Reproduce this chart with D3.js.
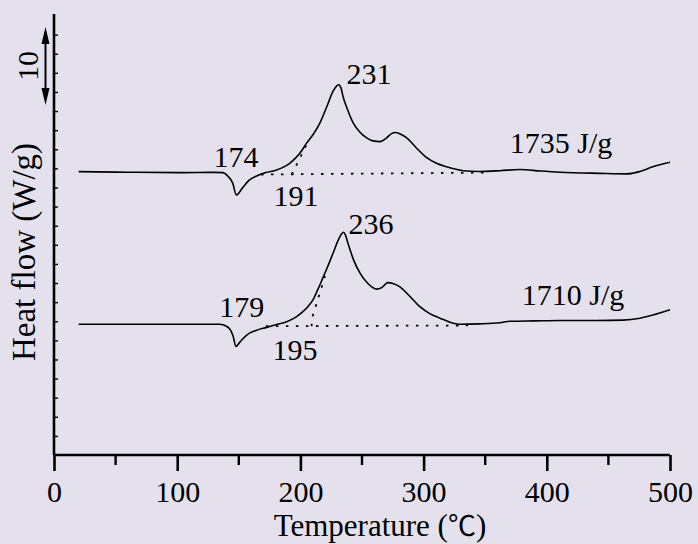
<!DOCTYPE html>
<html>
<head>
<meta charset="utf-8">
<script src="https://cdn.jsdelivr.net/npm/d3@7/dist/d3.min.js"></script>
<style>
  html, body { margin: 0; padding: 0; background: #e4e0ec; }
  svg { display: block; font-family: "Liberation Serif", "DejaVu Serif", serif; }
</style>
</head>
<body>
<svg id="chart" width="698" height="544"></svg>
<script>
// DSC curves, temperature (°C) vs heat flow (W/g, offset)
var upperCurve = [
  [20, 37.08], [60, 37.0], [102, 36.95], [130, 36.98], [137, 36.95], [141, 36.5],
  [145, 35.6], [148, 34.03], [153, 34.95], [158, 35.9], [164.5, 36.5], [172, 36.95],
  [180.7, 37.3], [191.6, 38.2], [199.7, 39.5], [205, 40.8], [211, 42.1], [216, 43.5],
  [222, 45.8], [226.5, 47.6], [229.5, 48.3], [231, 48.45], [233, 48.0], [234.6, 46.9],
  [238, 45.3], [242.7, 43.5], [248, 42.3], [253.8, 41.5], [259, 41.1], [264.6, 41.0],
  [270, 41.5], [274, 42.05], [276.8, 42.2], [281, 42.0], [286.3, 41.5], [294, 40.2],
  [302.5, 38.9], [310, 38.2], [318.7, 37.7], [332, 37.2], [345, 37.1], [362, 37.2],
  [378, 37.35], [395, 37.15], [410.7, 37.0], [443, 36.85], [465, 36.78], [475.6, 37.1],
  [486, 37.7], [500, 38.3]
];
var lowerCurve = [
  [20, 17.1], [60, 17.1], [102, 17.1], [134.7, 17.1], [141, 16.75], [145.3, 15.6],
  [147.7, 14.2], [151, 14.8], [156.4, 15.7], [164, 16.3], [172.6, 16.7], [180, 17.05],
  [188.9, 17.45], [196, 18.0], [202, 18.75], [206, 19.4], [210.2, 20.3], [214, 21.6],
  [218.3, 23.2], [222, 24.6], [226.5, 26.4], [231, 28.2], [233.5, 28.95], [235, 29.15],
  [236.5, 28.8], [238.6, 27.7], [243, 25.6], [248.4, 23.8], [255, 22.4], [262, 21.7],
  [266, 21.9], [271, 22.55], [275, 22.45], [280.8, 22.0], [288, 20.9], [297, 19.4],
  [305, 18.5], [313.3, 17.9], [321, 17.4], [329.5, 17.1], [345, 17.15], [362, 17.3],
  [370, 17.5], [390, 17.55], [410.7, 17.6], [440, 17.6], [461.8, 17.65], [475.6, 17.9],
  [488, 18.4], [500, 19.0]
];

// dotted construction lines (baselines and onset tangents)
var upperBaseline = [[168, 36.7], [352, 36.95]];
var upperTangent = [[193, 36.7], [205.5, 40.8]];
var lowerBaseline = [[172, 16.85], [336, 16.95]];
var lowerTangent = [[209, 16.85], [210, 18.2], [220, 23.4]];

var labelText = ["231", "174", "191", "1735 J/g", "236", "179", "195", "1710 J/g"];
var labelT = [255.7, 147.7, 196.4, 411.5, 257.3, 152.3, 195.6, 421.3];
var labelW = [48.55, 37.7, 32.6, 39.5, 28.9, 18.06, 12.4, 19.6];

var xMajorTicks = [0, 100, 200, 300, 400, 500];
var xMinorTicks = [50, 150, 250, 350, 450];
var yMinorTicks = d3.range(2.5, 56, 2.5);
var scaleBarSpan = [45.8, 56.0];
var scaleBarLabel = "10";

var svg = d3.select('#chart');
var margin = {left: 54, right: 28, top: 14, bottom: 89};
var width = 698, height = 544;

var x = d3.scaleLinear().domain([0, 500]).range([margin.left, width - margin.right]);
var y = d3.scaleLinear().domain([0, 57.7]).range([height - margin.bottom, margin.top]);

var line = d3.line()
  .x(function(d) { return x(d[0]); })
  .y(function(d) { return y(d[1]); });

// x axis: major ticks labelled, minor ticks shorter
var xAxis = svg.append('g')
  .attr('transform', 'translate(0,' + y(0) + ')')
  .call(d3.axisBottom(x).tickValues(xMajorTicks).tickSize(16).tickPadding(10).tickFormat(d3.format('d')));
xAxis.select('.domain').attr('stroke-width', 2.6).attr('d', 'M' + x(0) + ',0H' + x(500));
xAxis.selectAll('.tick line').attr('stroke-width', 2.6);
xAxis.selectAll('.tick text')
  .attr('font-family', '"Liberation Serif", serif')
  .attr('font-size', 30)
  .attr('fill', '#000');
svg.append('g')
  .attr('transform', 'translate(0,' + y(0) + ')')
  .selectAll('line')
  .data(xMinorTicks)
  .enter().append('line')
  .attr('x1', function(d) { return x(d); })
  .attr('x2', function(d) { return x(d); })
  .attr('y1', 0).attr('y2', 10)
  .attr('stroke', '#000').attr('stroke-width', 2.4);

// y axis: no labels, small inward ticks
var yAxis = svg.append('g')
  .attr('transform', 'translate(' + x(0) + ',0)')
  .call(d3.axisRight(y).tickValues(yMinorTicks).tickSize(4).tickFormat(''));
yAxis.select('.domain').attr('stroke-width', 2.6).attr('d', 'M0,' + y(0) + 'V' + y(57.7));
yAxis.selectAll('.tick line').attr('stroke-width', 1.4);

// scale bar arrow (10 W/g)
var barX = 45.5, barTop = y(scaleBarSpan[1]), barBot = y(scaleBarSpan[0]);
svg.append('line')
  .attr('x1', barX).attr('x2', barX).attr('y1', barTop + 8).attr('y2', barBot - 8)
  .attr('stroke', '#000').attr('stroke-width', 2);
svg.append('path')
  .attr('d', 'M' + barX + ',' + barTop + 'L' + (barX - 4) + ',' + (barTop + 17) + 'L' + (barX + 4) + ',' + (barTop + 17) + 'Z' +
             'M' + barX + ',' + barBot + 'L' + (barX - 4) + ',' + (barBot - 17) + 'L' + (barX + 4) + ',' + (barBot - 17) + 'Z')
  .attr('fill', '#000');
svg.append('text')
  .attr('transform', 'translate(38,' + ((barTop + barBot) / 2) + ') rotate(-90)')
  .attr('text-anchor', 'middle')
  .attr('font-size', 30)
  .text(scaleBarLabel);

// curves
[upperCurve, lowerCurve].forEach(function(c) {
  svg.append('path')
    .datum(c)
    .attr('d', line.curve(d3.curveMonotoneX))
    .attr('fill', 'none')
    .attr('stroke', '#000')
    .attr('stroke-width', 1.6);
});

[upperBaseline, upperTangent, lowerBaseline, lowerTangent].forEach(function(c) {
  svg.append('path')
    .datum(c)
    .attr('d', line.curve(d3.curveLinear))
    .attr('fill', 'none')
    .attr('stroke', '#000')
    .attr('stroke-width', 1.8)
    .attr('stroke-dasharray', '2.5,7.5');
});

// annotations
svg.selectAll('text.note')
  .data(labelText)
  .enter().append('text')
  .attr('class', 'note')
  .attr('x', function(d, i) { return x(labelT[i]); })
  .attr('y', function(d, i) { return y(labelW[i]); })
  .attr('text-anchor', 'middle')
  .attr('font-size', 30)
  .text(function(d) { return d; });

// axis titles
var xt = svg.append('text')
  .attr('x', 380)
  .attr('y', 536)
  .attr('text-anchor', 'middle')
  .attr('font-size', 31);
xt.append('tspan').text('Temperature (');
xt.append('tspan').attr('font-family', '"Noto Sans CJK SC", "DejaVu Sans", sans-serif').attr('font-size', 28).text('℃');
xt.append('tspan').text(')');

svg.append('text')
  .attr('transform', 'translate(35,' + 252 + ') rotate(-90)')
  .attr('text-anchor', 'middle')
  .attr('font-size', 33)
  .text('Heat flow (W/g)');
</script>
</body>
</html>
